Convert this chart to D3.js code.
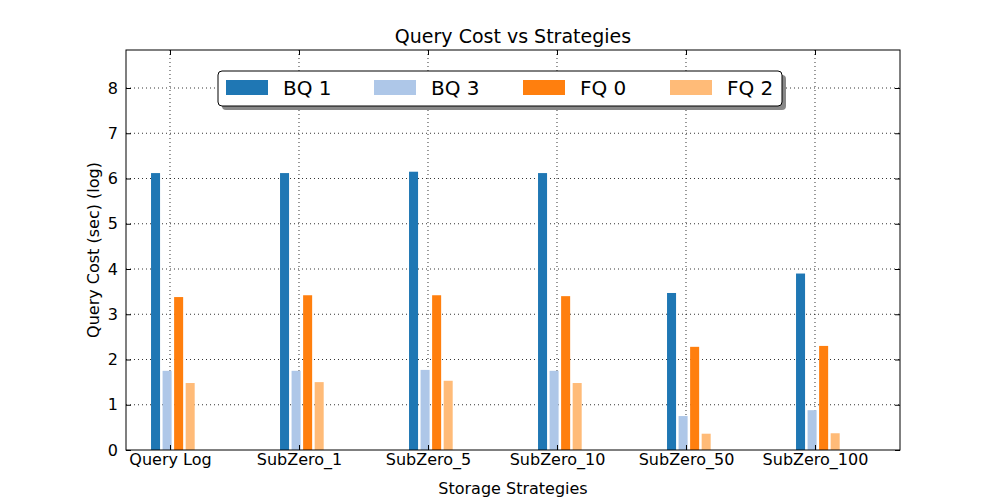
<!DOCTYPE html>
<html><head><meta charset="utf-8">
<script src="https://cdn.jsdelivr.net/npm/d3@7"></script>
<style>body{margin:0;background:#fff}text{font-family:"DejaVu Sans",sans-serif}</style>
</head><body><svg id="chart" width="1000" height="500"></svg>
<script>
var categories = ["Query Log","SubZero_1","SubZero_5","SubZero_10","SubZero_50","SubZero_100"];
var seriesNames = ["BQ 1","BQ 3","FQ 0","FQ 2"];
var seriesColors = ["#1f77b4","#aec7e8","#ff7f0e","#ffbb78"];
var bq1 = [6.12,6.12,6.15,6.12,3.47,3.90];
var bq3 = [1.75,1.75,1.77,1.75,0.75,0.88];
var fq0 = [3.38,3.42,3.42,3.40,2.28,2.30];
var fq2 = [1.48,1.50,1.53,1.48,0.36,0.37];
var yTicks = [0,1,2,3,4,5,6,7,8];
var series = [bq1,bq3,fq0,fq2];

var svg = d3.select("#chart");
var pLeft = 126, pRight = 900, pTop = 50, pBottom = 450;
var x = d3.scaleLinear().domain([-0.341,5.659]).range([pLeft,pRight]);
var y = d3.scaleLinear().domain([0,8.84]).range([pBottom,pTop]);

// grid
svg.append("g").selectAll("line").data(yTicks.slice(1)).enter().append("line")
  .attr("x1",pLeft).attr("x2",pRight).attr("y1",d=>y(d)).attr("y2",d=>y(d))
  .attr("stroke","#000").attr("stroke-dasharray","1,3").attr("stroke-width",0.8);
svg.append("g").selectAll("line").data(d3.range(categories.length)).enter().append("line")
  .attr("x1",d=>x(d)).attr("x2",d=>x(d)).attr("y1",pTop).attr("y2",pBottom)
  .attr("stroke","#000").attr("stroke-dasharray","1,3").attr("stroke-width",0.8);

// bars
series.forEach(function(vals,k){
  svg.append("g").selectAll("rect").data(vals).enter().append("rect")
    .attr("x",(d,i)=>x(i-0.147+k*0.0895))
    .attr("width",x(0.07)-x(0))
    .attr("y",d=>y(d)).attr("height",d=>y(0)-y(d))
    .attr("fill",seriesColors[k]);
});

svg.append("rect").attr("x",pLeft).attr("y",pTop).attr("width",pRight-pLeft).attr("height",pBottom-pTop)
  .attr("fill","none").attr("stroke","#000");

// y axis
var yAxis = svg.append("g").attr("transform","translate("+pLeft+",0)")
  .call(d3.axisLeft(y).tickValues(yTicks).tickSize(-5).tickPadding(8).tickFormat(d3.format("d")));
yAxis.select(".domain").remove();
yAxis.selectAll("text").attr("font-size",16).attr("fill","#000");
var yAxisR = svg.append("g").attr("transform","translate("+pRight+",0)")
  .call(d3.axisRight(y).tickValues(yTicks).tickSize(-5).tickFormat(""));
yAxisR.select(".domain").remove();

// x axis
var xAxis = svg.append("g").attr("transform","translate(0,"+pBottom+")")
  .call(d3.axisBottom(x).tickValues(d3.range(categories.length)).tickSize(-5).tickPadding(4).tickFormat(i=>categories[i]));
xAxis.select(".domain").remove();
xAxis.selectAll("text").attr("font-size",16).attr("fill","#000");
var xAxisT = svg.append("g").attr("transform","translate(0,"+pTop+")")
  .call(d3.axisTop(x).tickValues(d3.range(categories.length)).tickSize(-5).tickFormat(""));
xAxisT.select(".domain").remove();

svg.append("text").attr("x",513).attr("y",43).attr("text-anchor","middle").attr("font-size",19).text("Query Cost vs Strategies");
svg.append("text").attr("x",513).attr("y",494).attr("text-anchor","middle").attr("font-size",16).text("Storage Strategies");
svg.append("text").attr("transform","translate(99,250) rotate(-90)").attr("text-anchor","middle").attr("font-size",16).text("Query Cost (sec) (log)");

// legend
svg.append("rect").attr("x",222).attr("y",75).attr("width",564).attr("height",35).attr("rx",4).attr("fill","#888");
svg.append("rect").attr("x",218).attr("y",71).attr("width",564).attr("height",35).attr("rx",4).attr("fill","#fff").attr("stroke","#000");
var lx = [226,374,523,670];
var lg = svg.append("g").selectAll("g").data(seriesNames).enter().append("g")
  .attr("transform",(d,i)=>"translate("+lx[i]+",80)");
lg.append("rect").attr("width",42).attr("height",15).attr("fill",(d,i)=>seriesColors[i]);
lg.append("text").attr("x",57).attr("y",15).attr("font-size",20).text(d=>d);
</script></body></html>
